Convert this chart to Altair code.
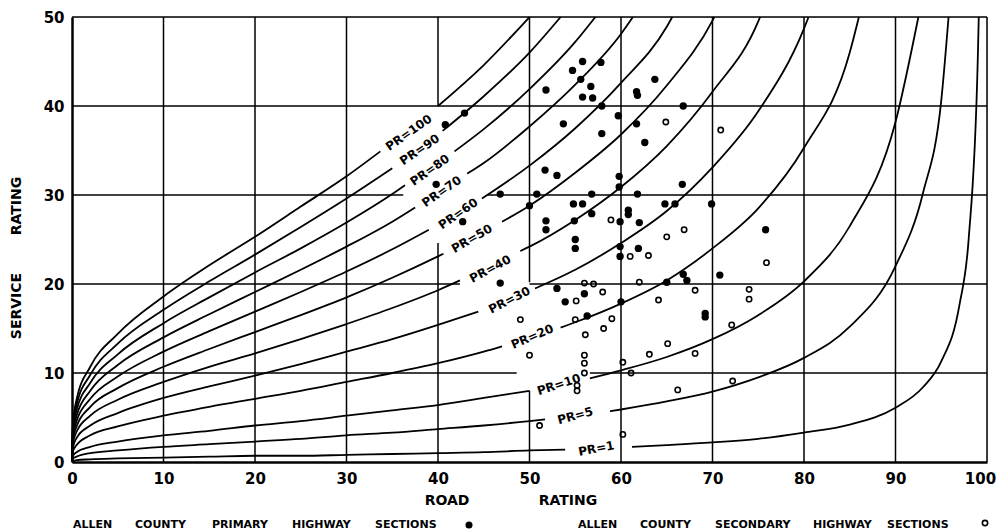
import altair as alt
import pandas as pd

# ---------------- curve data (road rating R, service rating S) ----------------
pr100_left = [(0, 0), (0.1, 4.3), (0.5, 7.0), (2, 10.7), (5, 14.4), (10, 18.6), (15, 22.1), (20, 25.3), (25, 28.7), (30, 32.1), (33.7, 34.9)]
pr100_right = [(40, 40.0), (45, 44.6), (50, 50.0)]

pr90_left = [(0, 0), (0.1, 3.9), (0.5, 6.4), (2, 9.8), (5, 13.3), (10, 17.1), (15, 20.3), (20, 23.3), (25, 26.4), (30, 29.6), (35, 33.0)]
pr90_right = [(40.5, 37.2), (45, 41.1), (50, 46.0), (53.4, 50)]

pr80_left = [(0, 0), (0.1, 3.6), (0.5, 5.8), (2, 8.9), (5, 12.1), (10, 15.6), (15, 18.5), (20, 21.3), (25, 24.0), (30, 26.9), (35, 30.1), (36.4, 31.1)]
pr80_right = [(41.8, 34.9), (45, 37.4), (50, 41.9), (55, 47.2), (57.2, 50)]

pr70_left = [(0, 0), (0.1, 3.2), (0.5, 5.2), (2, 8.0), (5, 10.9), (10, 14.0), (15, 16.6), (20, 19.1), (25, 21.6), (30, 24.2), (35, 27.0), (37.5, 28.6)]
pr70_right = [(43.2, 32.4), (45, 33.6), (50, 37.7), (55, 42.4), (60, 48.1), (61.3, 50)]

pr60_left = [(0, 0), (0.1, 2.9), (0.5, 4.6), (2, 7.1), (5, 9.6), (10, 12.4), (15, 14.7), (20, 16.9), (25, 19.1), (30, 21.4), (35, 23.9), (39.0, 26.1)]
pr60_right = [(44.8, 29.6), (50, 33.3), (55, 37.5), (60, 42.6), (65, 48.9), (65.6, 50)]

pr50_left = [(0, 0), (0.1, 2.5), (0.5, 4.0), (2, 6.2), (5, 8.3), (10, 10.7), (15, 12.7), (20, 14.6), (25, 16.5), (30, 18.5), (35, 20.7), (40, 23.1), (40.6, 23.4)]
pr50_right = [(47, 27.0), (50, 28.8), (55, 32.5), (60, 36.8), (65, 42.3), (70, 49.6), (70.2, 50)]

pr40_left = [(0, 0), (0.1, 2.1), (0.5, 3.4), (2, 5.2), (5, 7.0), (10, 9.0), (15, 10.7), (20, 12.2), (25, 13.8), (30, 15.5), (35, 17.3), (40, 19.3), (42.4, 20.4)]
pr40_right = [(49, 23.7), (50, 24.2), (55, 27.2), (60, 30.9), (65, 35.5), (70, 41.6), (75, 49.5), (75.2, 50)]

pr30_left = [(0, 0), (0.1, 1.6), (0.5, 2.7), (2, 4.1), (5, 5.5), (10, 7.2), (15, 8.5), (20, 9.7), (25, 11.0), (30, 12.4), (35, 13.8), (40, 15.4), (44.4, 16.9)]
pr30_right = [(50.6, 19.5), (55, 21.6), (60, 24.6), (65, 28.2), (70, 33.1), (75, 39.4), (80, 48.7), (80.5, 50)]

pr20_left = [(0, 0), (0.1, 1.2), (0.5, 1.9), (2, 3.0), (5, 4.0), (10, 5.2), (15, 6.2), (20, 7.1), (25, 8.0), (30, 9.0), (35, 10.0), (40, 11.1), (45, 12.4), (47, 13.0)]
pr20_right = [(53.4, 15.1), (55, 15.7), (60, 17.8), (65, 20.4), (70, 24.0), (75, 28.5), (80, 35.3), (85, 46.0), (86.0, 50)]

pr10_left = [(0, 0), (0.1, 0.7), (0.5, 1.1), (2, 1.7), (5, 2.3), (10, 3.0), (15, 3.5), (20, 4.1), (25, 4.6), (30, 5.2), (35, 5.8), (40, 6.4), (45, 7.2), (50, 8.0)]
pr10_right = [(56.6, 9.4), (60, 10.3), (65, 11.8), (70, 13.8), (75, 16.5), (80, 20.3), (85, 26.5), (90, 38.2), (92.5, 50)]

pr5_left = [(0, 0), (0.1, 0.4), (0.5, 0.6), (2, 1.0), (5, 1.3), (10, 1.7), (15, 2.0), (20, 2.3), (25, 2.6), (30, 3.0), (35, 3.3), (40, 3.7), (45, 4.1), (50, 4.6), (51.7, 4.8)]
pr5_right = [(58.8, 5.7), (60, 5.9), (65, 6.8), (70, 7.9), (75, 9.5), (80, 11.7), (85, 15.2), (90, 22.0), (93, 30.2), (95, 40.6), (95.8, 50)]

pr1_left = [(0, 0), (0.5, 0.2), (2, 0.3), (5, 0.4), (10, 0.5), (15, 0.6), (20, 0.7), (25, 0.7), (30, 0.8), (35, 0.9), (40, 1.0), (45, 1.1), (50, 1.3), (53.9, 1.4)]
pr1_right = [(61.2, 1.7), (65, 1.9), (70, 2.2), (75, 2.6), (80, 3.3), (85, 4.2), (90, 6.1), (93, 8.4), (95, 11.3), (97, 17.7), (98, 25.1), (99, 45.6), (99.1, 50)]

# ---------------- curve labels ----------------
label_text = ["PR=100", "PR=90", "PR=80", "PR=70", "PR=60", "PR=50", "PR=40", "PR=30", "PR=20", "PR=10", "PR=5", "PR=1"]
label_R = [36.8, 38.0, 39.1, 40.4, 42.2, 43.7, 45.7, 47.8, 50.3, 53.2, 55.0, 57.3]
label_S = [37.0, 35.1, 32.8, 30.4, 27.9, 25.1, 21.7, 18.2, 14.1, 8.7, 5.2, 1.5]
label_tilt = [35, 34, 35, 35, 35, 30, 28, 27, 23, 18, 15, 11]

# ---------------- road sections ----------------
primary_R = [55.8, 57.8, 54.7, 55.6, 56.7, 51.8, 55.8, 56.9, 63.7, 61.7, 61.8, 57.9, 59.7, 61.7, 53.7,
             57.9, 62.6, 40.8, 42.9, 51.7, 53.0, 59.8, 59.8, 39.8, 46.8, 50.8, 56.8, 61.8, 50.0, 54.8,
             55.8, 56.8, 60.8, 60.8, 62.0, 59.9, 54.9, 51.8, 51.8, 42.7, 55.0, 55.0, 59.9, 61.9, 64.8,
             65.9, 66.8, 66.7, 69.9, 75.8, 59.9, 66.8, 67.2, 65.0, 70.8, 60.0, 69.2, 69.2, 46.8, 53.0,
             53.9, 56.0, 56.3]
primary_S = [45.0, 44.9, 44.0, 43.0, 42.2, 41.8, 41.0, 40.9, 43.0, 41.6, 41.2, 40.0, 38.9, 38.0, 38.0,
             36.9, 35.9, 37.9, 39.2, 32.8, 32.2, 32.1, 30.9, 31.2, 30.1, 30.1, 30.1, 30.1, 28.8, 29.0,
             29.0, 27.9, 28.3, 27.8, 26.9, 27.0, 27.1, 27.1, 26.1, 27.0, 25.0, 24.0, 24.2, 24.0, 29.0,
             29.0, 40.0, 31.2, 29.0, 26.1, 23.1, 21.1, 20.4, 20.2, 21.0, 18.0, 16.7, 16.3, 20.1, 19.5,
             18.0, 18.9, 16.4]

secondary_R = [64.9, 70.9, 66.9, 65.0, 58.9, 61.0, 63.0, 75.9, 57.0, 62.0, 58.0, 68.1, 74.0, 74.0, 64.1,
               59.0, 58.1, 72.1, 56.0, 55.1, 49.0, 55.0, 56.1, 50.0, 56.0, 56.0, 56.0, 55.2, 55.2, 51.1,
               60.2, 60.2, 61.1, 63.1, 65.1, 68.1, 66.2, 72.2]
secondary_S = [38.2, 37.3, 26.1, 25.3, 27.2, 23.1, 23.2, 22.4, 20.0, 20.2, 19.1, 19.3, 19.4, 18.3, 18.2,
               16.1, 15.0, 15.4, 20.1, 18.1, 16.0, 16.0, 14.3, 12.0, 12.0, 11.1, 10.0, 8.6, 8.0, 4.1,
               11.2, 3.1, 10.0, 12.1, 13.3, 12.2, 8.1, 9.1]

# ---------------- grid lines (partly interrupted in the original) ----------------
vgrid_R = [10, 20, 30, 40, 40, 50, 50, 60, 70, 80, 90, 100]
vgrid_S1 = [0, 0, 0, 0, 40, 0, 20.2, 0, 0, 0, 0, 0]
vgrid_S2 = [50, 50, 50, 24.6, 50, 8.0, 50, 50, 50, 50, 50, 50]
hgrid_S = [10, 10, 20, 20, 30, 30, 40, 50]
hgrid_R1 = [0, 56.6, 0, 50, 0, 45.4, 0, 0]
hgrid_R2 = [48.6, 100, 42.4, 100, 36.2, 100, 100, 100]

tick_values_x = [0, 10, 20, 30, 40, 50, 60, 70, 80, 90, 100]
tick_values_y = [0, 10, 20, 30, 40, 50]

# ---------------- build tables ----------------
curves = {
    100: (pr100_left, pr100_right), 90: (pr90_left, pr90_right), 80: (pr80_left, pr80_right),
    70: (pr70_left, pr70_right), 60: (pr60_left, pr60_right), 50: (pr50_left, pr50_right),
    40: (pr40_left, pr40_right), 30: (pr30_left, pr30_right), 20: (pr20_left, pr20_right),
    10: (pr10_left, pr10_right), 5: (pr5_left, pr5_right), 1: (pr1_left, pr1_right),
}
rows = []
for pr, parts in curves.items():
    for k, part in enumerate(parts):
        for r, s in part:
            rows.append({"seg": f"{pr}-{k}", "R": r, "S": s})
curve_df = pd.DataFrame(rows)

label_df = pd.DataFrame({"t": label_text, "R": label_R, "S": label_S,
                         "ang": [360 - a for a in label_tilt]})
prim_df = pd.DataFrame({"R": primary_R, "S": primary_S})
sec_df = pd.DataFrame({"R": secondary_R, "S": secondary_S})
vg_df = pd.DataFrame({"R": vgrid_R, "S1": vgrid_S1, "S2": vgrid_S2})
hg_df = pd.DataFrame({"S": hgrid_S, "R1": hgrid_R1, "R2": hgrid_R2})

W, H = 915, 445
FONT = "DejaVu Sans"

xs = alt.Scale(domain=[0, 100], nice=False, zero=False)
ys = alt.Scale(domain=[0, 50], nice=False, zero=False)

x_axis = alt.Axis(values=tick_values_x, title=None, grid=False, ticks=False, labelFlush=False,
                  labelOverlap=False, labelFont=FONT, labelFontSize=15, labelFontWeight="bold",
                  labelColor="black", labelPadding=9, domainColor="black", domainWidth=2.5,
                  labelOffset={"condition": {"test": "datum.value == 100", "value": -7}, "value": 0})
y_axis = alt.Axis(values=tick_values_y, title=None, grid=False, ticks=False, labelFlush=False,
                  labelOverlap=False, labelFont=FONT, labelFontSize=15, labelFontWeight="bold",
                  labelColor="black", labelPadding=8, domainColor="black", domainWidth=2.5)

vgrid = alt.Chart(vg_df).mark_rule(color="black", strokeWidth=1.5).encode(
    x=alt.X("R:Q", scale=xs, axis=x_axis),
    y=alt.Y("S1:Q", scale=ys, axis=y_axis),
    y2="S2:Q",
)
hgrid = alt.Chart(hg_df).mark_rule(color="black", strokeWidth=1.5).encode(
    y=alt.Y("S:Q", scale=ys), x=alt.X("R1:Q", scale=xs), x2="R2:Q"
)

lines = alt.Chart(curve_df).mark_line(color="black", strokeWidth=1.8, interpolate="monotone").encode(
    x=alt.X("R:Q", scale=xs), y=alt.Y("S:Q", scale=ys), detail="seg:N"
)

labels = alt.Chart(label_df).mark_text(font=FONT, fontSize=12, fontWeight="bold", color="black",
                                       align="center", baseline="middle").encode(
    x=alt.X("R:Q", scale=xs), y=alt.Y("S:Q", scale=ys), text="t:N",
    angle=alt.Angle("ang:Q", scale=None)
)

prim_pts = alt.Chart(prim_df).mark_circle(color="black", size=54, opacity=1).encode(
    x=alt.X("R:Q", scale=xs), y=alt.Y("S:Q", scale=ys)
)
sec_pts = alt.Chart(sec_df).mark_point(shape="circle", filled=False, color="black", size=28,
                                       strokeWidth=1.6, opacity=1).encode(
    x=alt.X("R:Q", scale=xs), y=alt.Y("S:Q", scale=ys)
)

# ---------------- titles and bottom legend (pixel positions relative to plot area) ----------------
title_df = pd.DataFrame({
    "t": ["ROAD", "RATING", "SERVICE", "RATING"],
    "px": [375, 496, -55, -55],
    "py": [484, 484, 289, 189],
    "ang": [0, 0, 270, 270],
})
titles = alt.Chart(title_df).mark_text(font=FONT, fontSize=14, fontWeight="bold", color="black",
                                       align="center", baseline="middle").encode(
    x=alt.X("px:Q", scale=None, axis=None), y=alt.Y("py:Q", scale=None, axis=None),
    text="t:N", angle=alt.Angle("ang:Q", scale=None)
)

legend_df = pd.DataFrame({
    "t": ["ALLEN", "COUNTY", "PRIMARY", "HIGHWAY", "SECTIONS",
          "ALLEN", "COUNTY", "SECONDARY", "HIGHWAY", "SECTIONS"],
    "px": [1, 63, 140, 220, 303, 506, 568, 643, 741, 815],
})
legend_txt = alt.Chart(legend_df).mark_text(font=FONT, fontSize=11, fontWeight="bold", color="black",
                                            align="left", baseline="middle").encode(
    x=alt.X("px:Q", scale=None, axis=None), y=alt.value(508), text="t:N"
)
leg_dot = alt.Chart(pd.DataFrame({"k": ["primary"]})).mark_circle(color="black", size=50, opacity=1).encode(
    x=alt.value(397), y=alt.value(508)
)
leg_ring = alt.Chart(pd.DataFrame({"k": ["secondary"]})).mark_point(
    shape="circle", filled=False, color="black", size=28, strokeWidth=1.6, opacity=1).encode(
    x=alt.value(913), y=alt.value(506)
)

chart = alt.layer(vgrid, hgrid, lines, labels, sec_pts, prim_pts, titles, legend_txt, leg_dot, leg_ring).properties(
    width=W, height=H,
    autosize=alt.AutoSizeParams(type="none"),
    padding={"left": 64, "top": 9, "right": 10, "bottom": 69},
).configure_view(stroke=None).configure(background="white")

chart.save("out.html", embed_options={"renderer": "svg", "actions": False})
